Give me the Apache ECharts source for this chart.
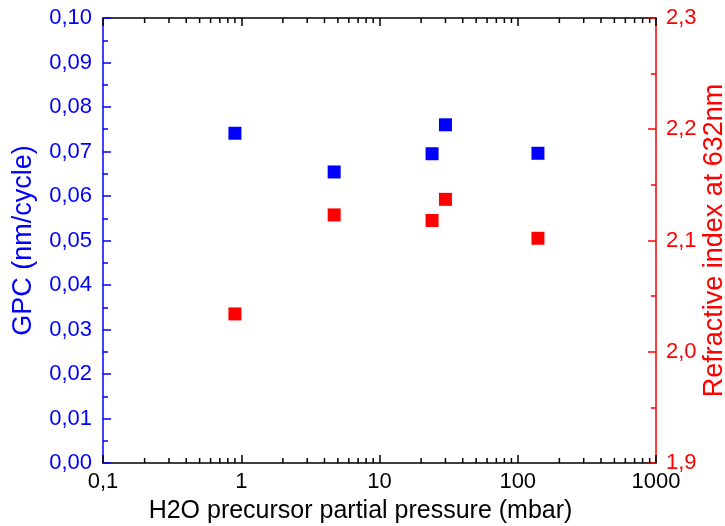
<!DOCTYPE html>
<html><head><meta charset="utf-8">
<script src="https://cdn.jsdelivr.net/npm/echarts@6/dist/echarts.min.js"></script>
<style>html,body{margin:0;padding:0;background:#fff}#c{width:725px;height:526px}</style>
</head><body><div id="c"></div>
<script>
var pressure = [0.9, 4.7, 24, 30, 140];
var gpc = [0.0741, 0.0654, 0.0695, 0.0760, 0.0696];
var refrIndex = [2.034, 2.123, 2.118, 2.137, 2.102];
var xTickLabels = {0.1: '0,1', 1: '1', 10: '10', 100: '100', 1000: '1000'};
var minorLog = [];
[0.1, 1, 10, 100].forEach(function (d) { for (var k = 2; k <= 9; k++) minorLog.push(+(d * k).toPrecision(3)); });

var FONT = 'Liberation Sans, Arial, sans-serif';
var chart = echarts.init(document.getElementById('c'));
function pairs(xs, ys) { return xs.map(function (x, i) { return [x, ys[i]]; }); }

chart.setOption({
  animation: false,
  grid: { left: 103, right: 69, top: 18, bottom: 63, containLabel: false, outerBoundsMode: 'none' },
  xAxis: [{
    type: 'log', logBase: 10, min: 0.1, max: 1000, position: 'bottom',
    name: 'H2O precursor partial pressure (mbar)', nameLocation: 'middle', nameGap: 36,
    nameMoveOverlap: false,
    nameTextStyle: { fontFamily: FONT, fontSize: 25, color: '#000', padding: [0, 38, 0, 0] },
    axisLine: { lineStyle: { color: '#000', width: 1.5 } },
    axisTick: { inside: true, length: 8, lineStyle: { color: '#000', width: 1.5 } },
    axisLabel: { fontFamily: FONT, fontSize: 22, color: '#000', margin: 8,
      formatter: function (v) { return xTickLabels[v] !== undefined ? xTickLabels[v] : ''; } },
    splitLine: { show: false }
  }, {
    type: 'log', logBase: 10, min: 0.1, max: 1000, position: 'top',
    axisLine: { lineStyle: { color: '#000', width: 1.5 } },
    axisTick: { inside: true, length: 8, lineStyle: { color: '#000', width: 1.5 } },
    axisLabel: { show: false }, splitLine: { show: false }
  }],
  yAxis: [{
    type: 'value', min: 0, max: 0.1, interval: 0.01, position: 'left',
    name: 'GPC (nm/cycle)', nameLocation: 'middle', nameGap: 66, nameRotate: 90,
    nameMoveOverlap: false,
    nameTextStyle: { fontFamily: FONT, fontSize: 27, color: '#0000ff' },
    axisLine: { show: true, lineStyle: { color: '#0000ff', width: 1.5 } },
    axisTick: { inside: true, length: 8, lineStyle: { color: '#0000ff', width: 1.5 } },
    minorTick: { show: true, splitNumber: 2, length: 5, lineStyle: { color: '#0000ff', width: 1.5 } },
    axisLabel: { fontFamily: FONT, fontSize: 22, color: '#0000ff', margin: 11,
      formatter: function (v) { return v.toFixed(2).replace('.', ','); } },
    splitLine: { show: false }
  }, {
    type: 'value', min: 1.9, max: 2.3, interval: 0.1, position: 'right',
    name: 'Refractive index at 632nm', nameLocation: 'middle', nameGap: 45, nameRotate: 90,
    nameMoveOverlap: false,
    nameTextStyle: { fontFamily: FONT, fontSize: 27, color: '#ff0000' },
    axisLine: { show: true, lineStyle: { color: '#ff0000', width: 1.5 } },
    axisTick: { inside: true, length: 8, lineStyle: { color: '#ff0000', width: 1.5 } },
    minorTick: { show: true, splitNumber: 2, length: 5, lineStyle: { color: '#ff0000', width: 1.5 } },
    axisLabel: { fontFamily: FONT, fontSize: 22, color: '#ff0000', margin: 10,
      formatter: function (v) { return v.toFixed(1).replace('.', ','); } },
    splitLine: { show: false }
  }],
  series: [{
    type: 'scatter', xAxisIndex: 0, yAxisIndex: 0, symbol: 'rect', symbolSize: 13,
    itemStyle: { color: '#0000ff', opacity: 1 }, data: pairs(pressure, gpc), z: 5
  }, {
    type: 'scatter', xAxisIndex: 0, yAxisIndex: 1, symbol: 'rect', symbolSize: 13,
    itemStyle: { color: '#ff0000', opacity: 1 }, data: pairs(pressure, refrIndex), z: 5
  }, {
    type: 'custom', xAxisIndex: 0, yAxisIndex: 0, silent: true, z: 4,
    data: minorLog.map(function (v) { return [v, 0]; }),
    renderItem: function (params, api) {
      var p = api.coord([api.value(0), 0]);
      var cs = params.coordSys;
      var top = cs.y, bot = cs.y + cs.height;
      var st = { stroke: '#000', lineWidth: 1.5 };
      return { type: 'group', children: [
        { type: 'line', shape: { x1: p[0], y1: bot, x2: p[0], y2: bot - 5 }, style: st },
        { type: 'line', shape: { x1: p[0], y1: top, x2: p[0], y2: top + 5 }, style: st }
      ] };
    }
  }]
});
</script></body></html>
